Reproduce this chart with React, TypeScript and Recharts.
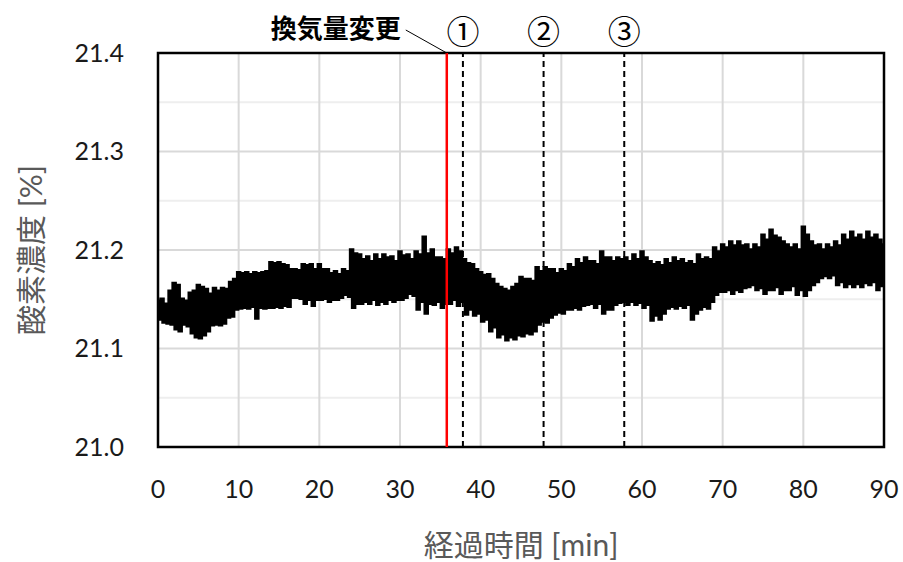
import React from 'react';
import {
  LineChart,
  Line,
  XAxis,
  YAxis,
  CartesianGrid,
  ReferenceLine,
  ReferenceArea,
} from 'recharts';

// Oxygen concentration [%], one sample every 0.25 min from 0 to 90 min.
const SAMPLE_STEP_MIN = 0.25;
const oxygen = [
  21.148, 21.130, 21.150, 21.127, 21.145, 21.126, 21.158, 21.125,
  21.166, 21.120, 21.164, 21.118, 21.150, 21.125, 21.148, 21.123,
  21.156, 21.116, 21.158, 21.112, 21.164, 21.111, 21.162, 21.114,
  21.160, 21.118, 21.155, 21.124, 21.161, 21.125, 21.158, 21.124,
  21.161, 21.126, 21.160, 21.132, 21.167, 21.133, 21.170, 21.140,
  21.177, 21.141, 21.176, 21.142, 21.177, 21.141, 21.175, 21.143,
  21.177, 21.131, 21.176, 21.142, 21.177, 21.141, 21.178, 21.142,
  21.187, 21.142, 21.186, 21.143, 21.187, 21.142, 21.185, 21.144,
  21.184, 21.143, 21.180, 21.152, 21.180, 21.152, 21.179, 21.151,
  21.185, 21.146, 21.184, 21.150, 21.185, 21.144, 21.180, 21.150,
  21.185, 21.150, 21.180, 21.151, 21.180, 21.148, 21.176, 21.150,
  21.178, 21.150, 21.175, 21.152, 21.180, 21.155, 21.178, 21.153,
  21.200, 21.142, 21.196, 21.146, 21.195, 21.146, 21.190, 21.148,
  21.193, 21.146, 21.188, 21.150, 21.195, 21.145, 21.190, 21.148,
  21.195, 21.146, 21.192, 21.150, 21.193, 21.148, 21.188, 21.150,
  21.198, 21.150, 21.194, 21.152, 21.195, 21.156, 21.190, 21.154,
  21.198, 21.140, 21.195, 21.148, 21.213, 21.136, 21.196, 21.146,
  21.200, 21.145, 21.192, 21.148, 21.192, 21.142, 21.190, 21.146,
  21.200, 21.146, 21.196, 21.150, 21.202, 21.144, 21.198, 21.148,
  21.190, 21.135, 21.186, 21.140, 21.185, 21.134, 21.180, 21.136,
  21.177, 21.128, 21.174, 21.130, 21.175, 21.118, 21.170, 21.122,
  21.165, 21.112, 21.162, 21.115, 21.160, 21.109, 21.158, 21.112,
  21.162, 21.110, 21.165, 21.114, 21.172, 21.113, 21.170, 21.116,
  21.170, 21.115, 21.168, 21.118, 21.182, 21.125, 21.178, 21.128,
  21.182, 21.127, 21.180, 21.132, 21.180, 21.135, 21.176, 21.137,
  21.180, 21.136, 21.178, 21.140, 21.185, 21.140, 21.182, 21.142,
  21.190, 21.140, 21.186, 21.144, 21.192, 21.145, 21.188, 21.146,
  21.188, 21.142, 21.185, 21.146, 21.198, 21.136, 21.192, 21.140,
  21.192, 21.140, 21.188, 21.145, 21.192, 21.147, 21.190, 21.148,
  21.192, 21.145, 21.188, 21.148, 21.195, 21.145, 21.190, 21.147,
  21.198, 21.142, 21.192, 21.145, 21.188, 21.129, 21.185, 21.134,
  21.187, 21.130, 21.184, 21.136, 21.190, 21.141, 21.186, 21.143,
  21.192, 21.141, 21.188, 21.144, 21.190, 21.142, 21.186, 21.145,
  21.188, 21.130, 21.185, 21.136, 21.195, 21.140, 21.190, 21.143,
  21.192, 21.141, 21.190, 21.148, 21.202, 21.155, 21.198, 21.158,
  21.205, 21.158, 21.202, 21.160, 21.208, 21.156, 21.204, 21.160,
  21.208, 21.158, 21.204, 21.162, 21.205, 21.163, 21.200, 21.165,
  21.205, 21.160, 21.202, 21.162, 21.215, 21.156, 21.210, 21.160,
  21.220, 21.160, 21.214, 21.163, 21.212, 21.156, 21.208, 21.160,
  21.205, 21.160, 21.202, 21.164, 21.205, 21.155, 21.200, 21.160,
  21.223, 21.154, 21.215, 21.160, 21.208, 21.165, 21.204, 21.168,
  21.205, 21.172, 21.200, 21.174, 21.205, 21.172, 21.202, 21.175,
  21.208, 21.165, 21.204, 21.168, 21.215, 21.163, 21.210, 21.166,
  21.218, 21.163, 21.212, 21.166, 21.215, 21.163, 21.210, 21.167,
  21.218, 21.165, 21.212, 21.168, 21.215, 21.160, 21.210, 21.164,
  21.205,
];

const xTicks = [0, 10, 20, 30, 40, 50, 60, 70, 80, 90];
const yTicks = [21.0, 21.1, 21.2, 21.3, 21.4];
const yMinorGrid = [21.05, 21.15, 21.25, 21.35];

// Ventilation change and the three follow-up checkpoints [min]
const changeTime = 35.8;
const changeLabel = '換気量変更';
const markerTimes = [37.8, 47.8, 57.8];
const markerLabels = ['①', '②', '③'];

const xTitle = '経過時間 [min]';
const yTitle = '酸素濃度 [%]';

const data = oxygen.map((v, i) => ({ t: i * SAMPLE_STEP_MIN, o2: v }));

const FONT = "Lato, 'Noto Sans CJK JP', sans-serif";
const CJK_FONT = "'Noto Sans CJK JP', Lato, sans-serif";

const ChangeLabel = (props: any) => {
  const { x, y } = props.viewBox || {};
  return (
    <g>
      <line x1={x - 41} y1={y - 23} x2={x} y2={y} stroke="#000" strokeWidth={1} />
      <text
        x={x - 46}
        y={y - 15}
        textAnchor="end"
        fontSize={26}
        fontWeight={700}
        fontFamily={CJK_FONT}
        fill="#000"
      >
        {changeLabel}
      </text>
    </g>
  );
};

const makeMarkerLabel = (text: string) => (props: any) => {
  const { x, y } = props.viewBox || {};
  return (
    <text
      x={x}
      y={y - 9}
      textAnchor="middle"
      fontSize={33}
      fontFamily={CJK_FONT}
      fill="#000"
    >
      {text}
    </text>
  );
};

const XTitle = (props: any) => {
  const { x, width } = props.viewBox || {};
  return (
    <text x={x + width / 2} y={556} textAnchor="middle" fontSize={30} fontFamily={FONT} fill="#595959">
      {xTitle}
    </text>
  );
};

const YTitle = (props: any) => {
  const { y, height } = props.viewBox || {};
  const cx = 30;
  const cy = y + height / 2;
  return (
    <text
      x={cx}
      y={cy}
      textAnchor="middle"
      dominantBaseline="central"
      transform={`rotate(-90 ${cx} ${cy})`}
      fontSize={30}
      fontFamily={FONT}
      fill="#595959"
    >
      {yTitle}
    </text>
  );
};

export default function App() {
  return (
    <div style={{ position: 'absolute', left: 0, top: 0, width: 903, height: 562, background: '#fff' }}>
      <LineChart
        width={903}
        height={562}
        data={data}
        margin={{ top: 53, right: 19, bottom: 55, left: 78 }}
      >
        <CartesianGrid
          horizontalValues={yMinorGrid}
          vertical={false}
          stroke="#eeeeee"
          strokeWidth={2}
        />
        <CartesianGrid horizontal={true} vertical={true} stroke="#d9d9d9" strokeWidth={2} />
        <XAxis
          dataKey="t"
          type="number"
          domain={[0, 90]}
          ticks={xTicks}
          interval={0}
          height={60}
          axisLine={false}
          tickLine={false}
          tickSize={0}
          tickMargin={33}
          tick={{ fontSize: 25, fill: '#1a1a1a', fontFamily: FONT }}
          label={<XTitle />}
        />
        <YAxis
          type="number"
          domain={[21.0, 21.4]}
          ticks={yTicks}
          interval={0}
          width={80}
          axisLine={false}
          tickLine={false}
          tickSize={0}
          tickMargin={34}
          tickFormatter={(v: number) => v.toFixed(1)}
          tick={{ fontSize: 25, fill: '#1a1a1a', fontFamily: FONT }}
          label={<YTitle />}
        />
        <Line
          type="step"
          dataKey="o2"
          stroke="#000"
          strokeWidth={3.5}
          strokeLinejoin="miter"
          dot={false}
          isAnimationActive={false}
        />
        {markerTimes.map((t, i) => (
          <ReferenceLine
            key={t}
            x={t}
            stroke="#000"
            strokeWidth={2}
            strokeDasharray="6 4"
            label={makeMarkerLabel(markerLabels[i])}
          />
        ))}
        <ReferenceLine x={changeTime} stroke="#ff0000" strokeWidth={2.5} label={ChangeLabel} />
        <ReferenceArea
          x1={0}
          x2={90}
          y1={21.0}
          y2={21.4}
          fill="none"
          stroke="#000"
          strokeWidth={2.5}
          ifOverflow="visible"
        />
      </LineChart>
    </div>
  );
}
